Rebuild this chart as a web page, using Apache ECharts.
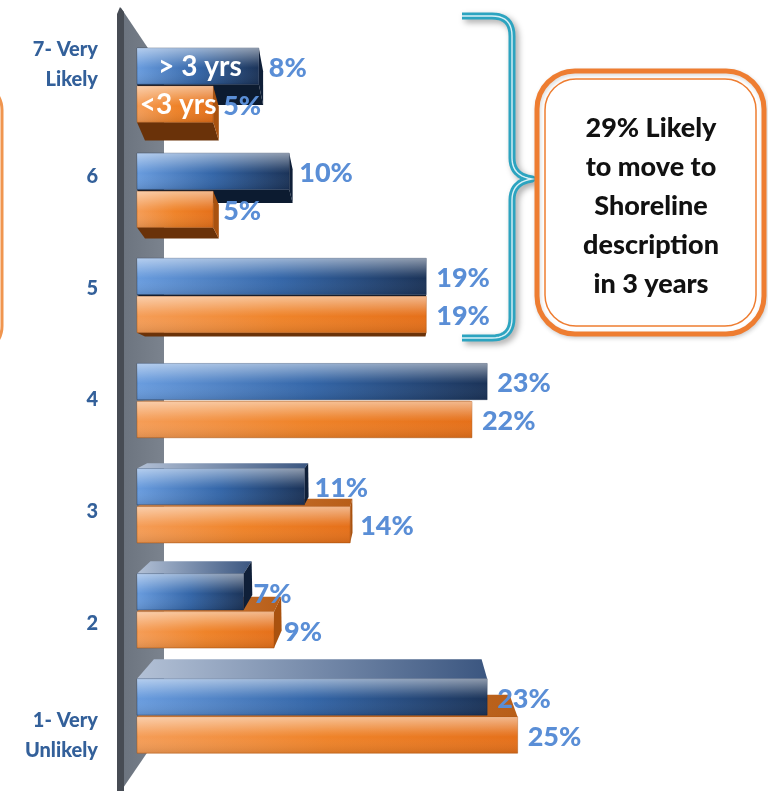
<!DOCTYPE html>
<html>
<head>
<meta charset="utf-8">
<script src="https://cdn.jsdelivr.net/npm/echarts@6/dist/echarts.min.js"></script>
<style>
  html, body { margin: 0; padding: 0; background: #ffffff; }
  #chart { width: 768px; height: 791px; }
</style>
</head>
<body>
<div id="chart"></div>
<script>
// Likelihood scale, top (most likely) to bottom
const categories = ['7- Very\nLikely', '6', '5', '4', '3', '2', '1- Very\nUnlikely'];
// Share of respondents (%) per answer
const moreThan3Years = [8, 10, 19, 23, 11, 7, 23];
const lessThan3Years = [5, 5, 19, 22, 14, 9, 25];
const seriesNames = ['> 3 yrs', '<3 yrs'];
const calloutText = '29% Likely\nto move to\nShoreline\ndescription\nin 3 years';

const FONT = 'Lato, "Open Sans", "DejaVu Sans", sans-serif';
const LABEL_BLUE = '#5a8ed6';

const palettes = [
  { // blue
    front: ['#6a9ddf', '#3466a8', '#1b3358'],
    top: ['#b3c1d6', '#3b5680'],
    bottom: '#0c1b30',
    side: '#0f1f38',
    edge: 'rgba(15,35,70,0.35)'
  },
  { // orange
    front: ['#f59d57', '#ef8329', '#e5701a'],
    top: ['#d3874a', '#b85e18'],
    bottom: '#6a3209',
    side: '#a9520f',
    edge: 'rgba(170,80,10,0.45)'
  }
];

function hGrad(stops) {
  return { type: 'linear', x: 0, y: 0, x2: 1, y2: 0,
    colorStops: stops.map((c, i) => ({ offset: i / (stops.length - 1), color: c })) };
}
const gloss = { type: 'linear', x: 0, y: 0, x2: 0, y2: 1, colorStops: [
  { offset: 0, color: 'rgba(255,255,255,0.50)' },
  { offset: 0.42, color: 'rgba(255,255,255,0.10)' },
  { offset: 0.55, color: 'rgba(255,255,255,0)' },
  { offset: 1, color: 'rgba(0,0,0,0.10)' }
]};

// 3D bar drawn in perspective: front face plus whichever top/bottom/right face shows
function makeRenderer(sIdx) {
  const pal = palettes[sIdx];
  return function (params, api) {
    const idx = api.value(1);
    const val = api.value(0);
    const cs = params.coordSys;
    const end = api.coord([val, idx]);
    const start = api.coord([0, idx]);
    const band = api.size([0, 1])[1];
    const h = band * 0.345;
    const x0 = start[0], x1 = end[0];
    const y0 = sIdx === 0 ? end[1] - band * 0.362 : end[1];
    const y1 = y0 + h;

    const XV = cs.x + cs.width * 0.432;
    const YV = cs.y + cs.height * 0.485;
    const back = (x, y) => {
      const a = 8 + Math.max(0, y - (cs.y + cs.height * 0.5)) * 0.032;
      return [x + a * (XV - x) / (XV - x0), y + 0.068 * (YV - y)];
    };

    const children = [];
    const bTL = back(x0, y0), bTR = back(x1, y0), bBL = back(x0, y1), bBR = back(x1, y1);
    if (bTL[1] < y0 - 0.5) {
      children.push({ type: 'polygon', z2: 1,
        shape: { points: [[x0, y0], [x1, y0], bTR, bTL] },
        style: { fill: hGrad(pal.top) } });
    }
    if (bBL[1] > y1 + 0.5) {
      children.push({ type: 'polygon', z2: 1,
        shape: { points: [[x0, y1], [x1, y1], bBR, bBL] },
        style: { fill: pal.bottom } });
    }
    if (bTR[0] > x1 + 0.5) {
      children.push({ type: 'polygon', z2: 2,
        shape: { points: [[x1, y0], bTR, bBR, [x1, y1]] },
        style: { fill: pal.side } });
    }
    children.push({ type: 'rect', z2: 10,
      shape: { x: x0, y: y0, width: x1 - x0, height: h },
      style: { fill: hGrad(pal.front), stroke: pal.edge, lineWidth: 1 } });
    children.push({ type: 'rect', z2: 11,
      shape: { x: x0, y: y0, width: x1 - x0, height: h },
      style: { fill: gloss } });

    // value label
    children.push({ type: 'text', z2: 20,
      style: { text: val + '%', x: x1 + 10, y: (y0 + y1) / 2 + 2,
        fill: LABEL_BLUE, font: '900 27px ' + FONT,
        align: 'left', verticalAlign: 'middle' } });

    // series name written inside the top bar
    if (idx === 0) {
      children.push({ type: 'text', z2: 21,
        style: { text: seriesNames[sIdx], x: (x0 + x1) / 2 + (sIdx === 0 ? 2 : 3), y: (y0 + y1) / 2 + 1,
          fill: '#ffffff', font: 'bold 28px ' + FONT,
          align: 'center', verticalAlign: 'middle',
          shadowColor: 'rgba(0,0,0,0.35)', shadowBlur: 2 } });
    }
    return { type: 'group', children };
  };
}

// curly brace as a polyline: straight runs joined by quadratic corners
function quad(p0, c, p1, n) {
  const pts = [];
  for (let i = 1; i <= n; i++) {
    const t = i / n, u = 1 - t;
    pts.push([u * u * p0[0] + 2 * u * t * c[0] + t * t * p1[0],
              u * u * p0[1] + 2 * u * t * c[1] + t * t * p1[1]]);
  }
  return pts;
}
const braceX = 512, braceL = 462, braceTop = 16, braceBot = 338, braceMid = 179, braceTip = 532;
const bracePts = [[braceL, braceTop], [braceX - 20, braceTop]]
  .concat(quad([braceX - 20, braceTop], [braceX, braceTop], [braceX, braceTop + 20], 10))
  .concat([[braceX, braceMid - 21]])
  .concat(quad([braceX, braceMid - 21], [braceX, braceMid - 3], [braceTip, braceMid], 10))
  .concat(quad([braceTip, braceMid], [braceX, braceMid + 3], [braceX, braceMid + 21], 10))
  .concat([[braceX, braceBot - 20]])
  .concat(quad([braceX, braceBot - 20], [braceX, braceBot], [braceX - 20, braceBot], 10))
  .concat([[braceL, braceBot]]);

const chart = echarts.init(document.getElementById('chart'), null, { renderer: 'canvas' });

chart.setOption({
  animation: false,
  backgroundColor: '#ffffff',
  grid: [
    { left: 137, right: 22, top: 33.5, height: 736 },
    { left: 120, width: 10, top: 9, height: 784 }
  ],
  xAxis: [
    { type: 'value', gridIndex: 0, min: 0, max: 40, show: false },
    { type: 'value', gridIndex: 1, min: 0, max: 1, show: false }
  ],
  yAxis: [
    { type: 'category', gridIndex: 0, data: categories, inverse: true, show: false },
    { type: 'category', gridIndex: 1, data: categories, inverse: true,
      axisLine: { show: false }, axisTick: { show: false }, splitLine: { show: false },
      axisLabel: { margin: 22, color: '#33609a', fontFamily: FONT, fontWeight: 900,
        fontSize: 20, lineHeight: 30, align: 'right' } }
  ],
  graphic: [
    // edge of a neighbouring panel
    { type: 'rect', z: 0, shape: { x: -240, y: 82, width: 242, height: 272, r: 28 },
      style: { fill: null, stroke: '#f0954f', lineWidth: 3 } },
    // chart wall
    { type: 'polygon', z: 0, shape: { points: [[121, 8], [164, 72], [164, 728], [121, 791]] },
      style: { fill: { type: 'linear', x: 0, y: 0, x2: 1, y2: 0, colorStops: [
        { offset: 0, color: '#6b737e' }, { offset: 1, color: '#7b838e' }] } } },
    { type: 'polygon', z: 0, shape: { points: [[117, 14], [120, 7], [124, 12], [124, 791], [117, 791]] },
      style: { fill: '#474c54' } },
    // brace
    { type: 'polyline', z: 1, shape: { points: bracePts },
      style: { fill: null, stroke: '#2ca4c0', lineWidth: 7, lineCap: 'butt', lineJoin: 'round',
        shadowColor: 'rgba(0,0,0,0.35)', shadowBlur: 6, shadowOffsetX: 3, shadowOffsetY: 3 } },
    { type: 'polyline', z: 1, shape: { points: bracePts },
      style: { fill: null, stroke: 'rgba(235,248,252,0.9)', lineWidth: 1.4 } },
    // callout
    { type: 'rect', z: 1, shape: { x: 537, y: 71, width: 227, height: 263, r: 38 },
      style: { fill: '#ffffff', stroke: '#ee7d31', lineWidth: 5,
        shadowColor: 'rgba(0,0,0,0.15)', shadowBlur: 4, shadowOffsetX: 1, shadowOffsetY: 2 } },
    { type: 'rect', z: 1, shape: { x: 545, y: 79, width: 211, height: 247, r: 31 },
      style: { fill: null, stroke: '#ee7d31', lineWidth: 1.5 } },
    { type: 'text', z: 2,
      style: { text: calloutText, x: 651, y: 206, fill: '#111111',
        font: '900 27px ' + FONT, lineHeight: 39,
        textAlign: 'center', textVerticalAlign: 'middle' } }
  ],
  series: [
    { type: 'custom', name: seriesNames[0], xAxisIndex: 0, yAxisIndex: 0, clip: false,
      data: moreThan3Years.map((v, i) => [v, i]), renderItem: makeRenderer(0) },
    { type: 'custom', name: seriesNames[1], xAxisIndex: 0, yAxisIndex: 0, clip: false,
      data: lessThan3Years.map((v, i) => [v, i]), renderItem: makeRenderer(1) }
  ]
});
</script>
</body>
</html>
